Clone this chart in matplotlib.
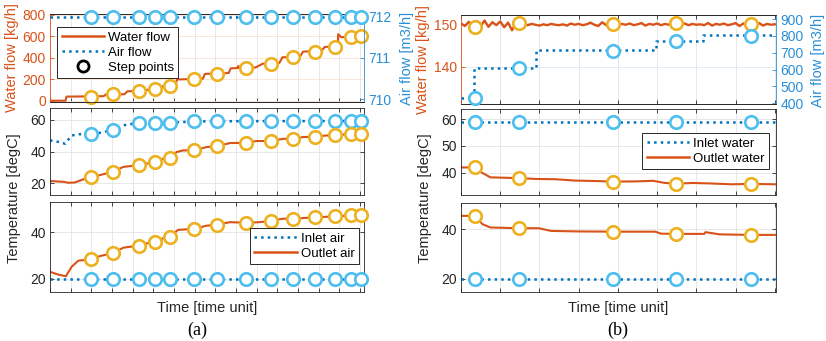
import matplotlib.pyplot as plt
from matplotlib.lines import Line2D

plt.rcParams['font.family'] = ['Liberation Sans', 'DejaVu Sans']

ORANGE = '#D95319'
BLUE = '#0072BD'
YEL = '#EDB120'
LBLUE = '#4DBEEE'
AXBLUE = '#2B8FD6'
DARK = '#262626'
GRID = '#e4e4e4'

# ---------------- panel (a) data ----------------
step_a = [2.0, 3.03, 4.29, 5.08, 5.81, 6.98, 8.1, 9.48, 10.69, 11.77, 12.82, 13.82, 14.55, 15.05]
step_water_flow_a = [37, 58, 89, 105, 135, 200, 252, 305, 345, 406, 458, 502, 590, 606]
step_air_flow_a = [712, 712, 712, 712, 712, 712, 712, 712, 712, 712, 712, 712, 712, 712]
step_water_in_a = [51.3, 53.8, 57.9, 58.1, 58.3, 59.0, 59.2, 59.2, 59.2, 59.2, 59.2, 59.3, 59.3, 59.3]
step_water_out_a = [23.8, 27.3, 31.5, 33.5, 36.3, 40.8, 43.5, 45.6, 46.7, 48.1, 49.4, 50.2, 51.3, 51.3]
step_air_in_a = [20, 20, 20, 20, 20, 20, 20, 20, 20, 20, 20, 20, 20, 20]
step_air_out_a = [28.3, 30.9, 34.2, 35.7, 38.1, 41.4, 43.2, 44.1, 44.9, 45.8, 46.4, 46.8, 47.2, 47.2]

t_flow_a = [0, 0.75, 0.8, 2.6, 2.7, 3.6, 3.75, 4.6, 4.75, 5.3, 5.45, 6.05, 6.15, 7.4, 7.5,
            8.65, 8.75, 9.1, 9.12, 9.15, 9.95, 10.3, 11.1, 11.25, 12.1, 12.25, 13.15, 13.3,
            13.93, 13.95, 14.1, 15.2]
water_flow_a = [0, 0, 38, 42, 58, 60, 88, 90, 104, 108, 134, 138, 198, 205, 250,
                258, 302, 305, 325, 305, 310, 345, 352, 405, 410, 458, 465, 502,
                505, 620, 592, 606]
t_air_flow_a = [0, 15.2]
air_flow_a = [712, 712]

t_wout_a = [0, 0.65, 0.9, 1.2, 1.6, 2.0, 2.4, 3.03, 3.55, 4.29, 4.68, 5.08, 5.48, 5.8, 6.13,
            6.45, 6.98, 7.58, 8.1, 8.7, 9.48, 10.0, 10.69, 11.3, 11.77, 12.26, 12.82, 13.39,
            13.82, 14.55, 15.2]
water_out_a = [21.5, 21.0, 20.4, 20.6, 22.5, 23.75, 25.2, 27.3, 30.4, 31.5, 32.5, 33.5, 35.6, 36.25, 39.8,
               40.8, 40.8, 42.9, 43.5, 45.4, 45.6, 46.7, 46.7, 48.1, 48.1, 49.2, 49.4, 50.2,
               50.2, 51.25, 51.25]
t_win_a = [0, 0.48, 0.73, 1.05, 1.45, 2.0, 2.5, 3.03, 3.7, 4.29, 5.08, 5.8, 6.98, 8.1, 15.2]
water_in_a = [47.1, 46.0, 45.0, 50.2, 51.0, 51.25, 52.0, 53.75, 57.1, 57.9, 58.1, 58.3, 59.0, 59.2, 59.3]

t_aout_a = [0, 0.4, 0.77, 1.05, 1.37, 2.0, 2.42, 3.03, 3.55, 4.29, 4.68, 5.08, 5.48, 5.8, 6.2,
            6.98, 7.58, 8.1, 8.7, 9.48, 10.16, 10.69, 11.3, 11.77, 12.82, 13.82, 14.55, 15.2]
air_out_a = [22.9, 21.7, 21.0, 25.1, 27.7, 28.3, 29.7, 30.9, 33.3, 34.2, 35.2, 35.7, 37.4, 38.1, 41.0,
             41.4, 42.8, 43.2, 44.3, 44.1, 44.3, 44.9, 45.8, 45.8, 46.4, 46.8, 47.2, 47.2]
t_ain_a = [0, 15.2]
air_in_a = [20, 20]

# ---------------- panel (b) data ----------------
step_b = [0.35, 1.47, 3.88, 5.48, 7.40]
step_water_flow_b = [149.4, 150.2, 150.0, 150.2, 150.0]
step_air_flow_b = [430, 611, 712, 769, 800]
step_water_in_b = [58.9, 58.9, 58.9, 58.9, 58.9]
step_water_out_b = [41.9, 37.9, 36.6, 35.75, 35.75]
step_air_in_b = [20, 20, 20, 20, 20]
step_air_out_b = [45.4, 40.4, 39.0, 38.1, 37.7]

# water flow samples, every 0.1 time unit
water_flow_b = [150.2, 149.6, 150.6, 149.2, 150.8, 149.5, 150.9, 149.4, 150.5, 149.8,
                150.7, 149.3, 150.4, 148.6, 150.3, 149.7, 150.0, 149.8, 150.1, 149.9,
                149.7, 150.0, 149.8, 150.1, 149.9, 149.8, 150.0, 149.7, 150.2, 149.9,
                150.1, 149.8, 150.0, 150.4, 149.9, 149.6, 150.5, 149.8, 150.2, 150.0,
                149.7, 150.1, 149.9, 150.2, 149.8, 150.0, 150.3, 149.7, 150.1, 149.9,
                150.2, 149.8, 150.1, 149.9, 150.4, 149.7, 150.0, 150.2, 149.8, 150.1,
                149.9, 150.0, 149.8, 150.3, 149.7, 150.1, 149.9, 150.2, 149.8, 150.0,
                150.3, 149.6, 150.2, 149.9, 150.1, 149.8, 150.3, 149.7, 150.1, 149.9, 150.0]
t_water_flow_b = [i / 10 for i in range(len(water_flow_b))]

t_air_flow_b = [0, 0.33, 1.92, 4.96, 6.17, 8.03]
air_flow_b = [430, 611, 714, 770, 805, 805]

t_win_b = [0, 8.03]
water_in_b = [58.9, 58.9]
t_wout_b = [0, 0.35, 0.5, 0.75, 1.0, 1.47, 1.9, 2.4, 2.9, 3.5, 3.88, 4.5, 4.9, 5.2, 5.48,
            5.9, 6.4, 6.9, 7.4, 8.03]
water_out_b = [41.9, 41.9, 40.2, 38.2, 38.1, 37.9, 37.6, 37.5, 37.0, 36.8, 36.6, 36.7, 36.9, 36.1, 35.8,
               36.1, 35.9, 35.6, 35.75, 35.6]
t_ain_b = [0, 8.03]
air_in_b = [20, 20]
t_aout_b = [0, 0.35, 0.55, 0.75, 1.47, 1.98, 2.3, 3.0, 3.88, 4.95, 5.1, 5.48, 6.2, 6.23, 6.6, 7.4, 8.03]
air_out_b = [45.4, 45.4, 42.0, 40.7, 40.4, 40.4, 39.3, 39.1, 39.0, 39.0, 38.2, 38.1, 38.1, 38.8, 37.9, 37.7, 37.7]

W, H = 826, 341
fig = plt.figure(figsize=(W / 100, H / 100), dpi=100)


def box(x0, y0, x1, y1):
    return [x0 / W, 1 - y1 / H, (x1 - x0) / W, (y1 - y0) / H]


def base(ax, xmax, nt):
    ax.set_xlim(0, xmax)
    ax.set_xticks(range(nt + 1))
    ax.tick_params(axis='x', direction='in', top=True, bottom=True, labelbottom=False,
                   length=3, width=0.6, color=DARK)
    ax.grid(True, color=GRID, lw=0.6)
    ax.set_axisbelow(True)
    for s in ax.spines.values():
        s.set_color(DARK)
        s.set_linewidth(0.6)


def temp_axes(ax, ylim, yticks):
    ax.set_ylim(*ylim)
    ax.set_yticks(yticks)
    ax.tick_params(axis='y', direction='in', left=True, right=True, length=3, width=0.6,
                   color=DARK, labelcolor=DARK, labelsize=10, pad=3)


def marks(ax, t, v, c):
    ax.plot(t, v, 'o', ms=9, mfc='white', mec=c, mew=1.9, ls='none', zorder=5, clip_on=False)


def twin_style(ax, ax2, lcolor, rcolor):
    ax.tick_params(axis='y', direction='in', left=True, right=False, length=3, width=0.6,
                   color=lcolor, labelcolor=lcolor, labelsize=10, pad=3)
    ax2.tick_params(axis='y', direction='in', right=True, left=False, length=3, width=0.6,
                    color=rcolor, labelcolor=rcolor, labelsize=10, pad=3)
    ax.spines['left'].set_color(lcolor)
    ax.spines['right'].set_visible(False)
    ax2.spines['left'].set_visible(False)
    ax2.spines['right'].set_color(rcolor)
    for s in ['top', 'bottom']:
        ax2.spines[s].set_color(DARK)
        ax2.spines[s].set_linewidth(0.6)
    ax2.spines['right'].set_linewidth(0.6)


def leg(ax, handles, labels, loc, anchor):
    lg = ax.legend(handles, labels, loc=loc, bbox_to_anchor=anchor, borderaxespad=0,
                   fontsize=9.5, handlelength=3.2, handletextpad=0.3, labelspacing=0.2,
                   borderpad=0.35, fancybox=False, framealpha=1, edgecolor=DARK)
    lg.get_frame().set_linewidth(0.7)
    lg.set_zorder(20)
    return lg


# ---------------- (a) top ----------------
ax = fig.add_axes(box(50, 14, 364, 102.3))
base(ax, 15.2, 15)
ax.grid(True, axis='y', color='#f7e0d6', lw=0.6)
ax.plot(t_flow_a, water_flow_a, color=ORANGE, lw=1.5)
marks(ax, step_a, step_water_flow_a, YEL)
ax.set_ylim(-15, 809)
ax.set_yticks([0, 200, 400, 600, 800])
ax2 = ax.twinx()
ax2.plot(t_air_flow_a, air_flow_a, color=BLUE, lw=1.8, ls=':')
marks(ax2, step_a, step_air_flow_a, LBLUE)
ax2.set_ylim(709.92, 712.07)
ax2.set_yticks([710, 711, 712])
twin_style(ax, ax2, ORANGE, AXBLUE)
h = [Line2D([], [], color=ORANGE, lw=1.8),
     Line2D([], [], color=BLUE, lw=1.8, ls=':'),
     Line2D([], [], ls='none', marker='o', ms=8, mfc='white', mec='black', mew=2)]
leg(ax2, h, ['Water flow', 'Air flow', 'Step points'], 'upper left', (0.022, 0.853))

# ---------------- (a) middle ----------------
ax = fig.add_axes(box(50, 108, 364, 195))
base(ax, 15.2, 15)
ax.plot(t_win_a, water_in_a, color=BLUE, lw=1.8, ls=':')
ax.plot(t_wout_a, water_out_a, color=ORANGE, lw=1.5)
marks(ax, step_a, step_water_in_a, LBLUE)
marks(ax, step_a, step_water_out_a, YEL)
temp_axes(ax, (12.7, 67.5), [20, 40, 60])

# ---------------- (a) bottom ----------------
ax = fig.add_axes(box(50, 202, 364, 292))
base(ax, 15.2, 15)
ax.plot(t_ain_a, air_in_a, color=BLUE, lw=1.8, ls=':')
ax.plot(t_aout_a, air_out_a, color=ORANGE, lw=1.5)
marks(ax, step_a, step_air_in_a, LBLUE)
marks(ax, step_a, step_air_out_a, YEL)
temp_axes(ax, (14.2, 53.0), [20, 40])
h = [Line2D([], [], color=BLUE, lw=1.8, ls=':'), Line2D([], [], color=ORANGE, lw=1.8)]
leg(ax, h, ['Inlet air', 'Outlet air'], 'upper right', (0.984, 0.711))

# ---------------- (b) top ----------------
ax = fig.add_axes(box(461, 15, 776, 104))
base(ax, 8.03, 8)
ax.grid(True, axis='y', color='#dde9f3', lw=0.6)
ax.plot(t_water_flow_b, water_flow_b, color=ORANGE, lw=1.7)
marks(ax, step_b, step_water_flow_b, YEL)
ax.set_ylim(131.2, 152.2)
ax.set_yticks([140, 150])
ax2 = ax.twinx()
ax2.plot(t_air_flow_b, air_flow_b, color=BLUE, lw=1.8, ls=':', drawstyle='steps-post')
marks(ax2, step_b, step_air_flow_b, LBLUE)
ax2.set_ylim(396, 924)
ax2.set_yticks([400, 500, 600, 700, 800, 900])
twin_style(ax, ax2, ORANGE, AXBLUE)

# ---------------- (b) middle ----------------
ax = fig.add_axes(box(461, 109, 776, 195))
base(ax, 8.03, 8)
ax.plot(t_win_b, water_in_b, color=BLUE, lw=1.8, ls=':')
ax.plot(t_wout_b, water_out_b, color=ORANGE, lw=1.5)
marks(ax, step_b, step_water_in_b, LBLUE)
marks(ax, step_b, step_water_out_b, YEL)
temp_axes(ax, (31.6, 63.75), [40, 50, 60])
h = [Line2D([], [], color=BLUE, lw=1.8, ls=':'), Line2D([], [], color=ORANGE, lw=1.8)]
leg(ax, h, ['Inlet water', 'Outlet water'], 'upper right', (0.978, 0.72))

# ---------------- (b) bottom ----------------
ax = fig.add_axes(box(461, 203, 776, 292))
base(ax, 8.03, 8)
ax.plot(t_ain_b, air_in_b, color=BLUE, lw=1.8, ls=':')
ax.plot(t_aout_b, air_out_b, color=ORANGE, lw=1.5)
marks(ax, step_b, step_air_in_b, LBLUE)
marks(ax, step_b, step_air_out_b, YEL)
temp_axes(ax, (14.6, 50.6), [20, 40])

# ---------------- labels ----------------
def ftext(x, y, s, **kw):
    fig.text(x / W, 1 - y / H, s, ha='center', va='center', **kw)


ftext(12, 58, 'Water flow [kg/h]', rotation=90, color=ORANGE, fontsize=10.5)
ftext(407, 58, 'Air flow [m3/h]', rotation=90, color=AXBLUE, fontsize=10.5)
ftext(423, 60, 'Water flow [kg/h]', rotation=90, color=ORANGE, fontsize=10.5)
ftext(818, 60, 'Air flow [m3/h]', rotation=90, color=AXBLUE, fontsize=10.5)
ftext(14, 198, 'Temperature [degC]', rotation=90, color=DARK, fontsize=10.5)
ftext(425, 198, 'Temperature [degC]', rotation=90, color=DARK, fontsize=10.5)
ftext(207, 308, 'Time [time unit]', color=DARK, fontsize=10.5)
ftext(618, 308, 'Time [time unit]', color=DARK, fontsize=10.5)
ftext(197, 330, '(a)', family='Liberation Serif', color='black', fontsize=13)
ftext(618, 330, '(b)', family='Liberation Serif', color='black', fontsize=13)

fig.savefig('out.png', dpi=100)
